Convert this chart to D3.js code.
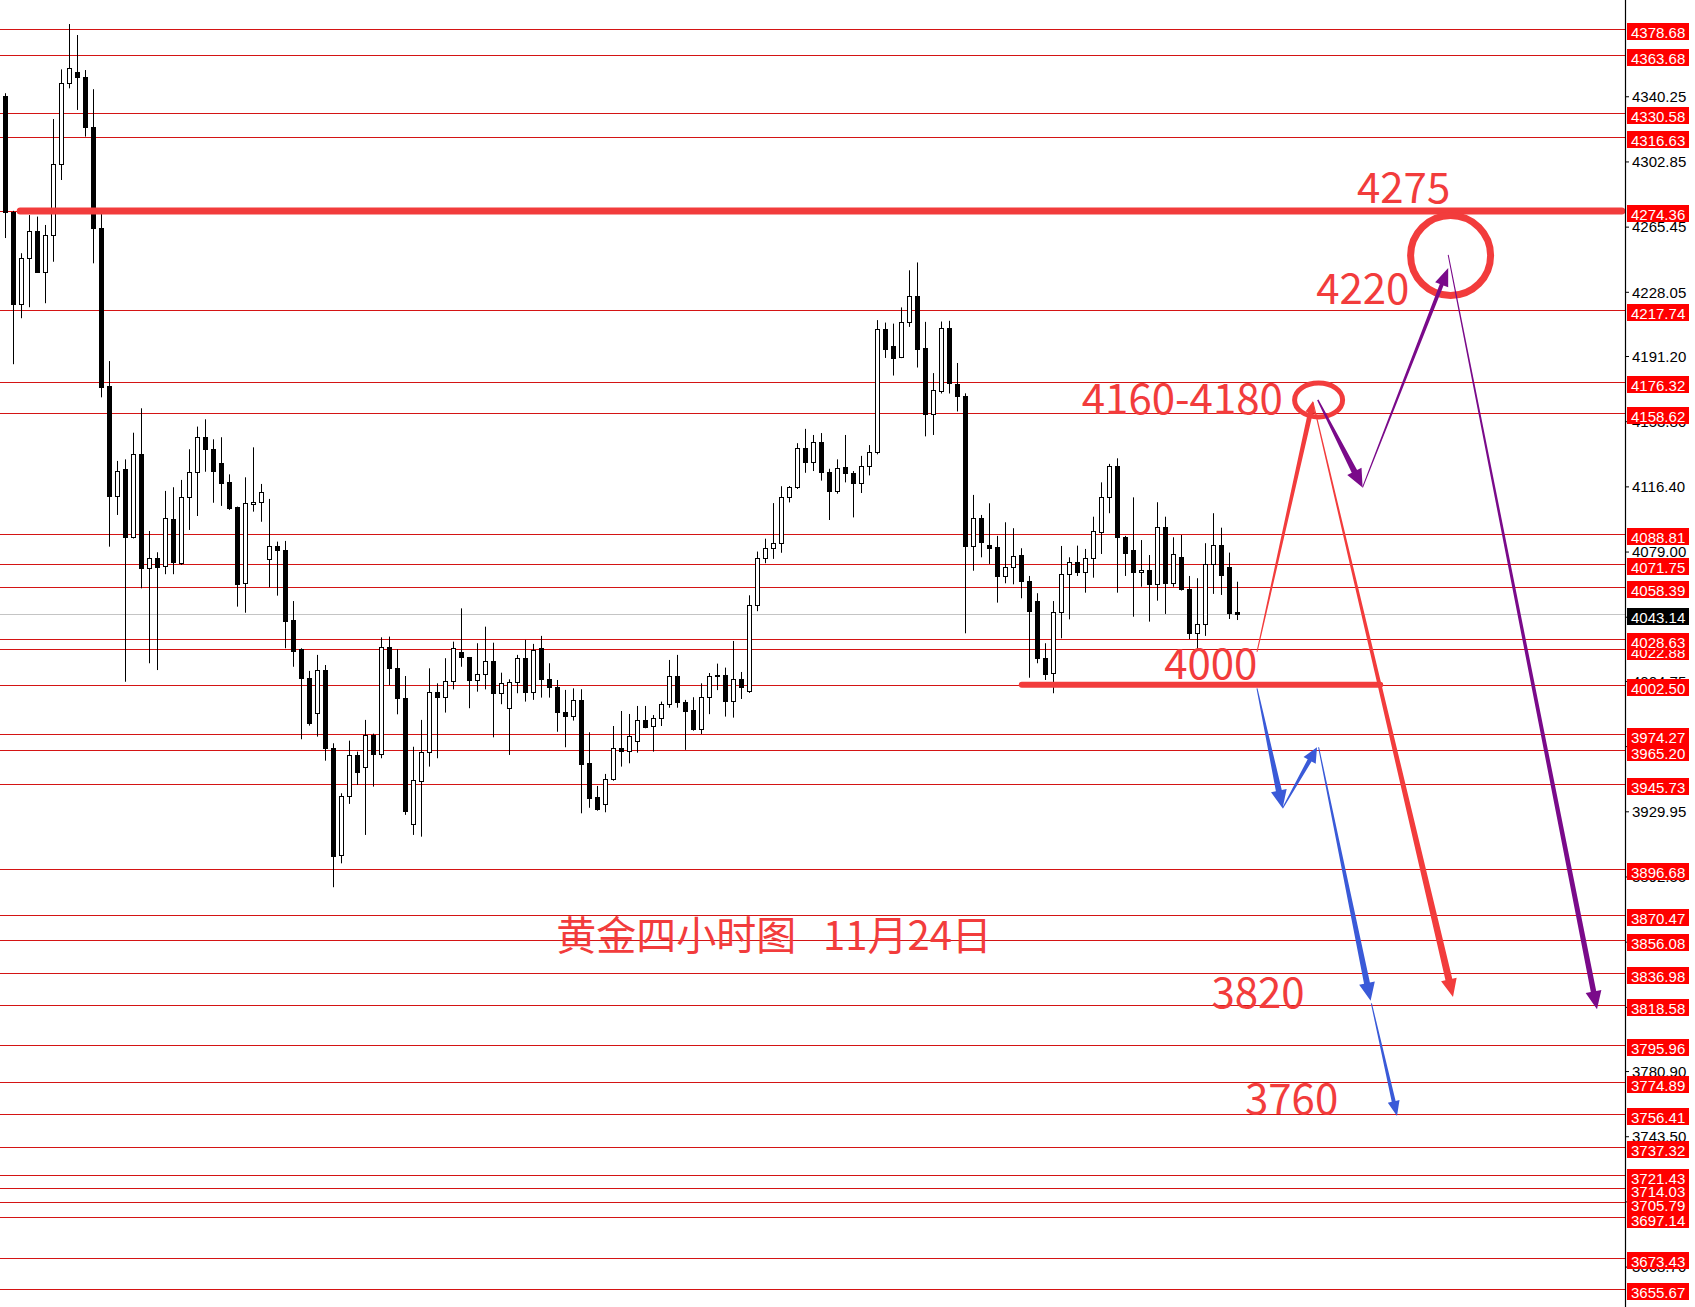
<!DOCTYPE html>
<html><head><meta charset="utf-8">
<script src="https://cdn.jsdelivr.net/npm/d3@7"></script>
<style>html,body{margin:0;padding:0;background:#fff;overflow:hidden}</style>
</head><body><svg id="c" width="1695" height="1307"></svg>
<script>
// ---- candle data (4H gold) ----
const opens=[4340.4,4274.0,4221.1,4247.3,4263.0,4239.6,4260.5,4301.2,4347.7,4354.4,4351.1,4322.8,4264.8,4174.0,4111.1,4126.2,4087.5,4134.8,4069.4,4075.5,
4070.7,4097.5,4072.6,4110.5,4124.5,4144.6,4137.7,4129.7,4118.7,4104.6,4060.8,4106.1,4107.6,4074.6,4082.2,4079.9,4039.7,4022.9,4006.3,3986.2,
4011.1,3966.5,3904.9,3938.8,3962.3,3955.2,3973.8,3962.7,4024.4,4012.0,3994.8,3922.5,3947.5,3963.8,3998.3,3995.4,4004.7,4021.2,4018.3,4005.3,
4008.6,4016.4,3997.7,3989.1,4004.0,4017.8,3998.6,4023.8,4005.9,4001.1,3986.8,3984.8,3993.9,3957.5,3938.0,3934.0,3948.3,3966.1,3964.6,3970.3,
3982.4,3979.1,3983.3,3991.4,4007.8,3992.5,3988.1,3977.0,3995.7,4008.4,4008.4,3993.4,4006.0,3999.2,4048.2,4075.4,4081.0,4083.9,4110.3,4115.9,
4138.3,4130.4,4141.7,4124.6,4113.5,4127.5,4124.2,4118.4,4128.0,4136.4,4206.5,4196.9,4190.4,4210.8,4225.5,4195.9,4158.1,4171.1,4207.1,4175.2,
4168.3,4082.4,4098.1,4082.8,4081.5,4065.2,4070.0,4077.0,4062.3,4050.6,4017.8,4009.2,4044.2,4066.1,4072.9,4067.5,4075.2,4090.4,4110.1,4128.1,
4087.5,4079.9,4067.1,4068.4,4060.2,4092.9,4060.8,4075.7,4057.4,4032.4,4037.3,4071.9,4082.8,4070.3,4044.2];
const highs=[4342.0,4274.5,4250.2,4272.1,4271.2,4266.4,4327.2,4355.7,4381.7,4375.4,4355.3,4344.3,4273.3,4188.3,4131.0,4131.9,4147.2,4161.2,4090.8,4078.6,
4113.8,4115.9,4120.1,4137.7,4150.7,4154.9,4143.4,4144.6,4123.3,4104.8,4121.6,4138.8,4117.8,4109.2,4084.7,4085.1,4050.6,4023.5,4010.5,4019.7,
4013.9,3969.0,3940.3,3970.5,3964.2,3982.4,3974.5,4029.8,4030.2,4022.9,4007.6,3967.0,3982.4,4012.0,4003.4,4017.8,4027.3,4046.4,4018.5,4026.4,
4035.9,4026.7,4009.5,4005.7,4019.7,4028.3,4026.0,4030.6,4014.9,4005.3,3999.6,4000.5,4000.0,3975.3,3944.5,3951.4,3978.9,3987.5,3985.8,3990.4,
3990.4,3985.2,3992.9,4016.8,4019.7,3993.9,3995.4,4003.4,4009.3,4014.7,4012.4,4027.7,4009.9,4053.9,4079.0,4086.4,4106.8,4116.5,4116.6,4141.2,
4149.4,4145.9,4147.0,4126.5,4131.9,4145.9,4125.2,4133.9,4140.1,4211.8,4210.4,4209.8,4219.1,4240.4,4244.9,4210.8,4181.4,4211.0,4211.4,4187.2,
4169.8,4111.5,4100.0,4106.7,4088.0,4095.8,4092.4,4080.9,4065.0,4055.1,4026.4,4050.6,4082.2,4075.7,4082.4,4080.5,4099.0,4118.7,4129.3,4132.5,
4088.0,4110.1,4085.6,4077.0,4107.3,4099.0,4087.2,4088.5,4065.0,4063.7,4083.8,4101.0,4092.7,4078.4,4061.7];
const lows=[4258.9,4186.5,4212.9,4219.2,4239.0,4221.5,4245.3,4292.2,4344.8,4332.4,4317.1,4244.4,4167.5,4081.8,4100.0,4004.3,4086.5,4057.9,4014.9,4011.0,
4066.0,4066.0,4071.3,4091.4,4099.4,4124.8,4107.0,4105.2,4102.9,4047.4,4043.9,4101.9,4096.1,4058.5,4053.7,4023.5,4012.9,3971.3,3979.1,3972.8,
3959.0,3886.4,3900.1,3934.2,3945.1,3916.4,3944.1,3960.4,4002.4,3985.6,3927.9,3916.4,3915.4,3955.6,3960.4,3986.6,3999.9,4012.9,3989.1,3998.6,
3999.9,3972.4,3991.4,3962.3,3997.7,3992.9,3993.9,3995.2,3995.2,3975.6,3966.7,3982.0,3928.8,3932.0,3930.3,3929.4,3947.5,3955.6,3957.5,3963.6,
3977.6,3964.2,3978.9,3989.4,3989.4,3965.2,3976.2,3974.3,3985.7,3999.5,3984.3,3983.7,3994.4,3997.9,4044.8,4072.3,4074.8,4078.3,4107.2,4114.9,
4124.2,4125.2,4119.7,4097.1,4112.2,4118.7,4098.6,4112.6,4122.7,4134.8,4190.1,4180.0,4190.0,4207.9,4184.6,4145.1,4145.9,4169.7,4169.7,4159.4,
4032.1,4068.0,4075.7,4071.9,4049.7,4060.8,4060.2,4052.2,4006.6,4014.9,4005.3,3997.7,4029.2,4040.1,4065.0,4055.4,4064.0,4077.6,4101.0,4055.4,
4065.0,4041.6,4058.8,4038.8,4050.8,4043.2,4058.8,4056.6,4028.8,4022.9,4030.6,4054.7,4054.1,4040.3,4039.7];
const closes=[4274.0,4221.1,4247.3,4263.0,4239.6,4260.5,4301.2,4347.7,4356.3,4351.1,4322.8,4264.8,4173.6,4111.1,4125.2,4087.5,4134.8,4069.4,4075.5,4070.0,
4098.1,4073.2,4110.1,4124.5,4144.6,4137.7,4125.4,4118.5,4104.2,4060.6,4106.7,4107.6,4113.0,4082.2,4079.7,4039.3,4022.1,4006.3,3980.8,4011.1,
3966.5,3904.5,3938.8,3962.3,3952.4,3973.8,3962.7,4024.4,4012.0,3994.8,3930.2,3947.9,3963.8,3998.3,3995.4,4004.7,4023.8,4018.3,4005.3,4008.6,
4016.4,3997.7,4003.4,4004.0,4017.8,3998.6,4022.5,4005.9,4001.1,3986.8,3984.8,3993.9,3956.9,3937.8,3931.3,3948.3,3966.1,3964.6,3973.2,3982.4,
3978.5,3983.3,3991.4,4007.8,3992.5,3987.7,3977.0,3995.4,4007.4,4007.6,3993.4,4006.0,4001.2,4048.2,4075.4,4081.0,4083.9,4110.3,4115.9,4138.3,
4130.4,4141.7,4124.6,4113.5,4126.9,4123.8,4118.4,4128.0,4136.4,4206.5,4195.5,4190.1,4210.8,4225.5,4195.5,4158.1,4171.7,4207.1,4175.9,4168.4,
4082.4,4098.1,4084.7,4081.2,4065.2,4070.0,4076.5,4062.3,4045.1,4017.8,4008.8,4044.2,4066.1,4072.9,4067.5,4075.2,4090.8,4110.1,4128.1,4087.2,
4078.0,4067.1,4068.4,4060.2,4092.9,4060.8,4077.6,4057.4,4032.4,4037.4,4071.9,4082.8,4065.6,4043.9,4043.14];

// ---- price levels ----
const levelPrices=[4378.68,4363.68,4330.58,4316.63,4274.36,4217.74,4176.32,4158.62,4088.81,4071.75,4058.39,4028.63,4022.88,4002.50,
3974.27,3965.20,3945.73,3896.68,3870.47,3856.08,3836.98,3818.58,3795.96,3774.89,3756.41,3737.32,3721.43,3714.03,3705.79,3697.14,3673.43,3655.67];
const axisTicks=[4340.25,4302.85,4265.45,4228.05,4191.20,4153.80,4116.40,4079.00,4041.60,4004.75,3967.35,3929.95,3892.55,3855.15,3817.75,3780.90,3743.50,3706.10,3668.70];
const currentPrice=4043.14;

// ---- annotations (bar index, price) ----
const annoTexts=["4275","4220","4160-4180","4000","3820","3760","黄金四小时图\u00a0\u00a0\u00a011月24日"];
const annoIdx=[169.0,163.9,134.6,144.9,150.8,155.0,68.9];
const annoPrice=[4279.0,4221.3,4157.8,4005.7,3816.9,3756.3,3850.4];
const arrowFrom=[[156.5,4021.4],[163.5,4164.8],[164.1,4166.0],[169.7,4115.8],[180.4,4249.2],[156.5,4000.5],[159.7,3931.7],[164.2,3966.7],[170.8,3819.8]];
const arrowTo=[[163.5,4165.4],[181.0,3823.4],[169.7,4115.8],[180.4,4241.7],[199.0,3816.4],[159.7,3931.7],[164.0,3966.7],[170.7,3821.3],[174.0,3755.1]];
const arrowKind=["red","red","purple","purple","purple","blue","blue","blue","blue"];
const thickLinePrice=[4274.36,4002.50];
const thickLineFrom=[1.9,127.1];
const thickLineTo=[202.1,171.9];
const circleAt=[180.7,4248.9];
const ellipseAt=[164.2,4166.0];

// ---- drawing ----
const svg=d3.select("#c");
const axisX=1625;
const x=d3.scaleLinear().domain([0,154]).range([5,1237]);
const y=d3.scaleLinear().domain([3655.67,4378.68]).range([1289.3,29.3]);
const RED="#f23c3c", colors={red:RED,purple:"#7a0a8a",blue:"#3a5ad8"};
const LABEL_FONT="'Liberation Sans',Arial,sans-serif";
svg.append("rect").attr("width",1695).attr("height",1307).attr("fill","#fff");

const g=svg.append("g");
g.append("line").attr("x1",0).attr("x2",axisX).attr("y1",Math.round(y(currentPrice))+0.5).attr("y2",Math.round(y(currentPrice))+0.5)
 .attr("stroke","#c4c4c4").attr("stroke-width",1);
g.selectAll("line.lvl").data(levelPrices).join("line").attr("class","lvl")
 .attr("x1",0).attr("x2",axisX).attr("y1",d=>Math.round(y(d))+0.5).attr("y2",d=>Math.round(y(d))+0.5)
 .attr("stroke","#d41414").attr("stroke-width",1);

// candles
const idx=d3.range(opens.length);
const cg=g.append("g");
idx.forEach(i=>{
  const cx=Math.round(x(i));
  const o=opens[i],c=closes[i],h=highs[i],l=lows[i];
  cg.append("line").attr("x1",cx+0.5).attr("x2",cx+0.5).attr("y1",y(h)).attr("y2",y(l)).attr("stroke","#000").attr("stroke-width",1);
  const top=Math.round(y(Math.max(o,c))), bot=Math.round(y(Math.min(o,c)));
  if(c>=o){
    cg.append("rect").attr("x",cx-1.5).attr("y",top+0.5).attr("width",4).attr("height",Math.max(1,bot-top))
      .attr("fill","#fff").attr("stroke","#000").attr("stroke-width",1);
  } else {
    cg.append("rect").attr("x",cx-2).attr("y",top).attr("width",5).attr("height",Math.max(2,bot-top+1)).attr("fill","#000");
  }
});

// thick lines
thickLinePrice.forEach((p,k)=>{
  g.append("line").attr("x1",x(thickLineFrom[k])).attr("x2",x(thickLineTo[k])).attr("y1",y(p)).attr("y2",y(p))
   .attr("stroke",RED).attr("stroke-width",k===0?7:6).attr("stroke-linecap","round");
});

g.append("circle").attr("cx",x(circleAt[0])).attr("cy",y(circleAt[1])).attr("r",40)
 .attr("fill","none").attr("stroke",RED).attr("stroke-width",7);
g.append("ellipse").attr("cx",x(ellipseAt[0])).attr("cy",y(ellipseAt[1])).attr("rx",24).attr("ry",17)
 .attr("fill","none").attr("stroke",RED).attr("stroke-width",5);

// arrows
const arrowStyle=[[1,5,12,5],[1,7,18,8],[1.5,6,18,8],[1,4,18,7],[1,5.5,18,8],[1,6,18,8],[1,4.5,15,7],[1,6,18,8],[1,4,15,6]];
arrowFrom.forEach((f,k)=>{
  const [w0,w1,hl,hw]=arrowStyle[k];
  const x0=x(f[0]),y0=y(f[1]),x1=x(arrowTo[k][0]),y1=y(arrowTo[k][1]);
  const dx=x1-x0,dy=y1-y0,len=Math.hypot(dx,dy),ux=dx/len,uy=dy/len,nx=-uy,ny=ux;
  const bx=x1-ux*hl,by=y1-uy*hl;
  const pts=[[x0+nx*w0/2,y0+ny*w0/2],[bx+nx*w1/2,by+ny*w1/2],[bx+nx*hw,by+ny*hw],[x1,y1],
             [bx-nx*hw,by-ny*hw],[bx-nx*w1/2,by-ny*w1/2],[x0-nx*w0/2,y0-ny*w0/2]];
  g.append("path").attr("d",d3.line()(pts)+"Z").attr("fill",colors[arrowKind[k]]);
});

// annotation texts
annoTexts.forEach((t,k)=>{
  g.append("text").attr("x",x(annoIdx[k])).attr("y",y(annoPrice[k])).text(t)
   .attr("font-family","'Noto Sans CJK SC','Noto Sans',sans-serif").attr("font-size",k===6?40:42)
   .attr("fill",RED);
});

// right axis
const ax=svg.append("g");
ax.append("rect").attr("x",axisX+1).attr("y",0).attr("width",1695-axisX).attr("height",1307).attr("fill","#fff");
ax.append("line").attr("x1",axisX+0.5).attr("x2",axisX+0.5).attr("y1",0).attr("y2",1307).attr("stroke","#000").attr("stroke-width",1.2);
const yAxis=d3.axisRight(y).tickValues(axisTicks).tickSize(4).tickPadding(3).tickFormat(d3.format(".2f"));
const axG=ax.append("g").attr("transform",`translate(${axisX},0)`).call(yAxis);
axG.select(".domain").remove();
axG.selectAll("text").attr("font-family",LABEL_FONT).attr("font-size",15).attr("fill","#000").attr("dy","0.35em");
axG.selectAll("line").attr("stroke","#000");
const lab=ax.append("g");
levelPrices.slice().sort((a,b)=>a-b).forEach(p=>{
  const ly=Math.round(y(p));
  lab.append("rect").attr("x",axisX+2).attr("y",ly-6).attr("width",62).attr("height",17).attr("fill","#ff0000");
  lab.append("text").attr("x",axisX+6).attr("y",ly+9).text(d3.format(".2f")(p))
   .attr("font-family",LABEL_FONT).attr("font-size",15).attr("fill","#fff");
});
{
  const ly=Math.round(y(currentPrice));
  lab.append("rect").attr("x",axisX+2).attr("y",ly-6).attr("width",62).attr("height",17).attr("fill","#000");
  lab.append("text").attr("x",axisX+6).attr("y",ly+9).text(d3.format(".2f")(currentPrice))
   .attr("font-family",LABEL_FONT).attr("font-size",15).attr("fill","#fff");
}
</script></body></html>
